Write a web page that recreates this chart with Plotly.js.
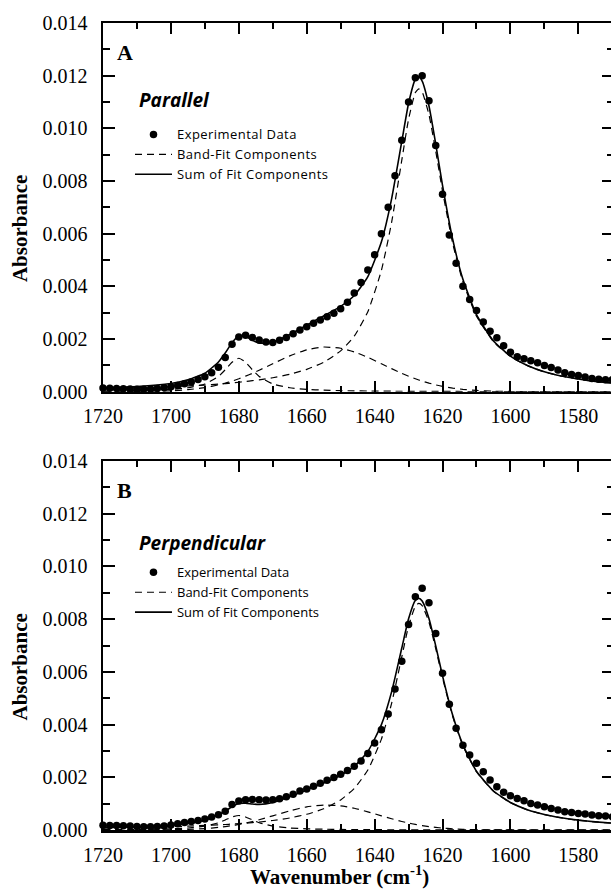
<!DOCTYPE html>
<html>
<head>
<meta charset="utf-8">
<script src="https://cdn.plot.ly/plotly-3.0.1.min.js"></script>
<style>
  html, body { margin: 0; padding: 0; background: #fff; overflow: hidden; }
  #chart { width: 614px; height: 891px; }
  .legendtext { letter-spacing: 0.45px; }
</style>
</head>
<body>
<div id="chart"></div>
<script>
// Measured wavenumbers (cm-1)
const wavenumber = [
  1720,1718,1716,1714,1712,1710,1708,1706,1704,1702,
  1700,1698,1696,1694,1692,1690,1688,1686,1684,1682,
  1680,1678,1676,1674,1672,1670,1668,1666,1664,1662,
  1660,1658,1656,1654,1652,1650,1648,1646,1644,1642,
  1640,1638,1636,1634,1632,1630,1628,1626,1624,1622,
  1620,1618,1616,1614,1612,1610,1608,1606,1604,1602,
  1600,1598,1596,1594,1592,1590,1588,1586,1584,1582,
  1580,1578,1576,1574,1572,1570
];

// Experimental absorbance, parallel polarization
const expParallel = [
  0.00014,0.00013,0.00012,0.00011,0.00010,0.00009,0.00009,0.00010,0.00012,0.00015,
  0.00019,0.00024,0.00030,0.00037,0.00046,0.00057,0.00072,0.00093,0.00130,0.00180,
  0.00208,0.00214,0.00206,0.00196,0.00189,0.00187,0.00195,0.00206,0.00220,0.00234,
  0.00247,0.00260,0.00272,0.00285,0.00298,0.00315,0.00340,0.00375,0.00415,0.00462,
  0.00520,0.00600,0.00700,0.00820,0.00955,0.01100,0.01192,0.01200,0.01105,0.00935,
  0.00750,0.00595,0.00488,0.00400,0.00350,0.00308,0.00265,0.00230,0.00205,0.00175,
  0.00150,0.00133,0.00125,0.00118,0.00110,0.00100,0.00092,0.00082,0.00072,0.00065,
  0.00062,0.00056,0.00050,0.00047,0.00045,0.00046
];

// Experimental absorbance, perpendicular polarization
const expPerpendicular = [
  0.00018,0.00017,0.00017,0.00016,0.00015,0.00013,0.00012,0.00012,0.00013,0.00015,
  0.00019,0.00024,0.00028,0.00032,0.00036,0.00042,0.00049,0.00058,0.00071,0.00097,
  0.00110,0.00115,0.00116,0.00115,0.00114,0.00115,0.00119,0.00126,0.00136,0.00148,
  0.00156,0.00166,0.00177,0.00189,0.00199,0.00212,0.00226,0.00242,0.00262,0.00290,
  0.00330,0.00380,0.00440,0.00535,0.00640,0.00780,0.00885,0.00917,0.00862,0.00746,
  0.00595,0.00477,0.00386,0.00322,0.00285,0.00253,0.00221,0.00190,0.00164,0.00143,
  0.00130,0.00120,0.00111,0.00101,0.00095,0.00088,0.00082,0.00076,0.00069,0.00066,
  0.00063,0.00061,0.00057,0.00054,0.00053,0.00050
];

// Wavenumbers at which the fitted band components are tabulated
const fitWavenumber = [
  1720,1710,1700,1695,1690,1686,1684,1682,1680,1678,
  1676,1674,1670,1665,1660,1655,1650,1646,1642,1638,
  1635,1632,1630,1628,1627,1626,1624,1622,1620,1617,
  1614,1610,1605,1600,1595,1590,1585,1580,1575,1570
];

// Parallel: band-fit components (1627, ~1654 and 1680 cm-1 bands)
const parBand1627 = [
  0.00012,0.00015,0.00019,0.00022,0.00025,0.00029,0.00031,0.00033,0.00036,0.00039,
  0.00042,0.00045,0.00053,0.00066,0.00085,0.00112,0.00155,0.00211,0.00304,0.00461,
  0.00643,0.00879,0.01035,0.01136,0.01150,0.01138,0.01052,0.00913,0.00762,0.00563,
  0.00417,0.00287,0.00190,0.00134,0.00099,0.00075,0.00059,0.00048,0.00039,0.00033
];
const parBand1654 = [
  0.000001,0.000005,0.000035,0.000078,0.000157,0.000259,0.000326,0.000403,0.000491,0.000590,
  0.000699,0.000816,0.001062,0.001361,0.001591,0.001697,0.001651,0.001511,0.001305,0.001062,
  0.000876,0.000699,0.000590,0.000491,0.000445,0.000403,0.000326,0.000259,0.000203,0.000138,
  0.000090,0.000049,0.000021,0.000008,0.000003,0.000001,0,0,0,0
];
const parBand1680 = [
  0.000024,0.000041,0.000089,0.000151,0.000295,0.000580,0.000831,0.001122,0.001270,0.001122,
  0.000831,0.000580,0.000295,0.000151,0.000089,0.000059,0.000041,0.000032,0.000026,0.000021,
  0.000019,0.000017,0.000015,0.000014,0.000014,0.000013,0.000012,0.000011,0.000011,0.000010,
  0.000009,0.000008,0.000007,0.000006,0.000005,0.000005,0.000004,0.000004,0.000004,0.000003
];

// Perpendicular: band-fit components
const perBand1627 = [
  0.000080,0.000100,0.000129,0.000148,0.000172,0.000196,0.000209,0.000224,0.000241,0.000260,
  0.000281,0.000304,0.000361,0.000457,0.000596,0.000805,0.001142,0.001576,0.002276,0.003448,
  0.004804,0.006572,0.007741,0.008496,0.008600,0.008515,0.007890,0.006880,0.005770,0.004300,
  0.003200,0.002210,0.001470,0.001040,0.000765,0.000585,0.000461,0.000372,0.000307,0.000257
];
const perBand1654 = [
  0,0.000001,0.000009,0.000023,0.000053,0.000098,0.000129,0.000166,0.000211,0.000264,
  0.000324,0.000390,0.000538,0.000726,0.000877,0.000948,0.000917,0.000824,0.000690,0.000538,
  0.000426,0.000324,0.000264,0.000211,0.000188,0.000166,0.000129,0.000098,0.000073,0.000045,
  0.000027,0.000013,0.000005,0.000002,0.000001,0,0,0,0,0
];
const perBand1680 = [
  0.000012,0.000021,0.000045,0.000076,0.000146,0.000275,0.000381,0.000495,0.000550,0.000495,
  0.000381,0.000275,0.000146,0.000076,0.000045,0.000030,0.000021,0.000017,0.000013,0.000011,
  0.000010,0.000009,0.000008,0.000008,0.000008,0.000007,0.000007,0.000007,0.000006,0.000006,
  0.000005,0.000005,0.000004,0.000003,0.000003,0.000003,0.000003,0.000002,0.000002,0.000002
];

const xTicks = [1720, 1700, 1680, 1660, 1640, 1620, 1600, 1580];
const yTicks = [0, 0.002, 0.004, 0.006, 0.008, 0.010, 0.012, 0.014];

const serif = 'Liberation Serif';
const sans = 'Open Sans';

function sumOf(parts) {
  return parts[0].map((_, i) => parts.reduce((s, p) => s + p[i], 0));
}

function panelTraces(xa, ya, legendId, expData, components) {
  const dashLine = { color: '#000', width: 1.2, dash: '7px,5px', shape: 'spline', smoothing: 0.5 };
  const traces = [{
    type: 'scatter', mode: 'markers', name: 'Experimental Data',
    x: wavenumber, y: expData, xaxis: xa, yaxis: ya, legend: legendId,
    marker: { color: '#000', size: 7.5 }, cliponaxis: false
  }];
  components.forEach((comp, k) => {
    traces.push({
      type: 'scatter', mode: 'lines', name: 'Band-Fit Components',
      x: fitWavenumber, y: comp, xaxis: xa, yaxis: ya, legend: legendId,
      showlegend: k === 0, line: dashLine
    });
  });
  traces.push({
    type: 'scatter', mode: 'lines', name: 'Sum of Fit Components',
    x: fitWavenumber, y: sumOf(components), xaxis: xa, yaxis: ya, legend: legendId,
    line: { color: '#000', width: 1.6, shape: 'spline', smoothing: 0.5 }
  });
  return traces;
}

const data = [
  ...panelTraces('x', 'y', 'legend', expParallel, [parBand1627, parBand1654, parBand1680]),
  ...panelTraces('x2', 'y2', 'legend2', expPerpendicular, [perBand1627, perBand1654, perBand1680])
];

function xAxis(anchor) {
  return {
    anchor: anchor, domain: [0, 1], range: [1720, 1569.5],
    tickmode: 'array', tickvals: xTicks, ticktext: xTicks.map(String),
    ticks: 'inside', ticklen: 11, tickwidth: 2, tickcolor: '#000',
    minor: { dtick: 10, tick0: 1720, ticks: 'inside', ticklen: 6, tickwidth: 2, tickcolor: '#000' },
    showline: true, linewidth: 2.5, linecolor: '#000', mirror: 'allticks',
    showgrid: false, zeroline: false, ticklabelstandoff: 5,
    tickfont: { family: serif, size: 20, color: '#000', weight: 'normal' }
  };
}
function yAxis(anchor, domain) {
  return {
    anchor: anchor, domain: domain, range: [0, 0.014],
    tickmode: 'array', tickvals: yTicks, ticktext: yTicks.map(v => v.toFixed(3)),
    ticks: 'inside', ticklen: 12, tickwidth: 2, tickcolor: '#000',
    minor: { dtick: 0.001, tick0: 0, ticks: 'inside', ticklen: 7, tickwidth: 2, tickcolor: '#000' },
    showline: true, linewidth: 2.5, linecolor: '#000', mirror: 'allticks',
    showgrid: false, zeroline: false, ticklabelstandoff: 9,
    tickfont: { family: serif, size: 20, color: '#000', weight: 'normal' }
  };
}

function legendAt(y) {
  return {
    x: 0.0528, y: y, xanchor: 'left', yanchor: 'top',
    bgcolor: 'rgba(0,0,0,0)', borderwidth: 0, itemwidth: 37,
    font: { family: sans, size: 13, color: '#000' },
    traceorder: 'normal', itemclick: false, itemdoubleclick: false
  };
}

const layout = {
  width: 614, height: 891,
  margin: { l: 103, r: 0, t: 23, b: 61 },
  paper_bgcolor: '#fff', plot_bgcolor: '#fff',
  font: { family: serif, color: '#000' },
  xaxis: xAxis('y'),
  yaxis: yAxis('x', [0.5431, 1]),
  xaxis2: xAxis('y2'),
  yaxis2: yAxis('x2', [0, 0.4572]),
  legend: legendAt(0.8805),
  legend2: legendAt(0.3378),
  annotations: [
    { text: '<b>A</b>', x: 0.0431, y: 0.964, xref: 'paper', yref: 'paper', showarrow: false,
      xanchor: 'center', yanchor: 'middle', font: { family: serif, size: 22, color: '#000' } },
    { text: '<b>B</b>', x: 0.0421, y: 0.4213, xref: 'paper', yref: 'paper', showarrow: false,
      xanchor: 'center', yanchor: 'middle', font: { family: serif, size: 22, color: '#000' } },
    { text: '<b><i>Parallel</i></b>', x: 0.0665, y: 0.9045, xref: 'paper', yref: 'paper', showarrow: false,
      xanchor: 'left', yanchor: 'middle', font: { family: sans, size: 19, color: '#000' } },
    { text: '<b><i>Perpendicular</i></b>', x: 0.0665, y: 0.356, xref: 'paper', yref: 'paper', showarrow: false,
      xanchor: 'left', yanchor: 'middle', font: { family: sans, size: 19, color: '#000' } },
    { text: '<b>Absorbance</b>', x: -0.1624, y: 0.7447, xref: 'paper', yref: 'paper', showarrow: false,
      textangle: -90, xanchor: 'center', yanchor: 'middle', font: { family: serif, size: 21, color: '#000' } },
    { text: '<b>Absorbance</b>', x: -0.1624, y: 0.2014, xref: 'paper', yref: 'paper', showarrow: false,
      textangle: -90, xanchor: 'center', yanchor: 'middle', font: { family: serif, size: 21, color: '#000' } },
    { text: '<b>Wavenumber (cm<sup>-1</sup>)</b>', x: 0.4628, y: -0.0752, xref: 'paper', yref: 'paper', showarrow: false,
      xanchor: 'center', yanchor: 'bottom', font: { family: serif, size: 21, color: '#000' } }
  ]
};

Plotly.newPlot('chart', data, layout, { displayModeBar: false, staticPlot: true });
</script>
</body>
</html>
